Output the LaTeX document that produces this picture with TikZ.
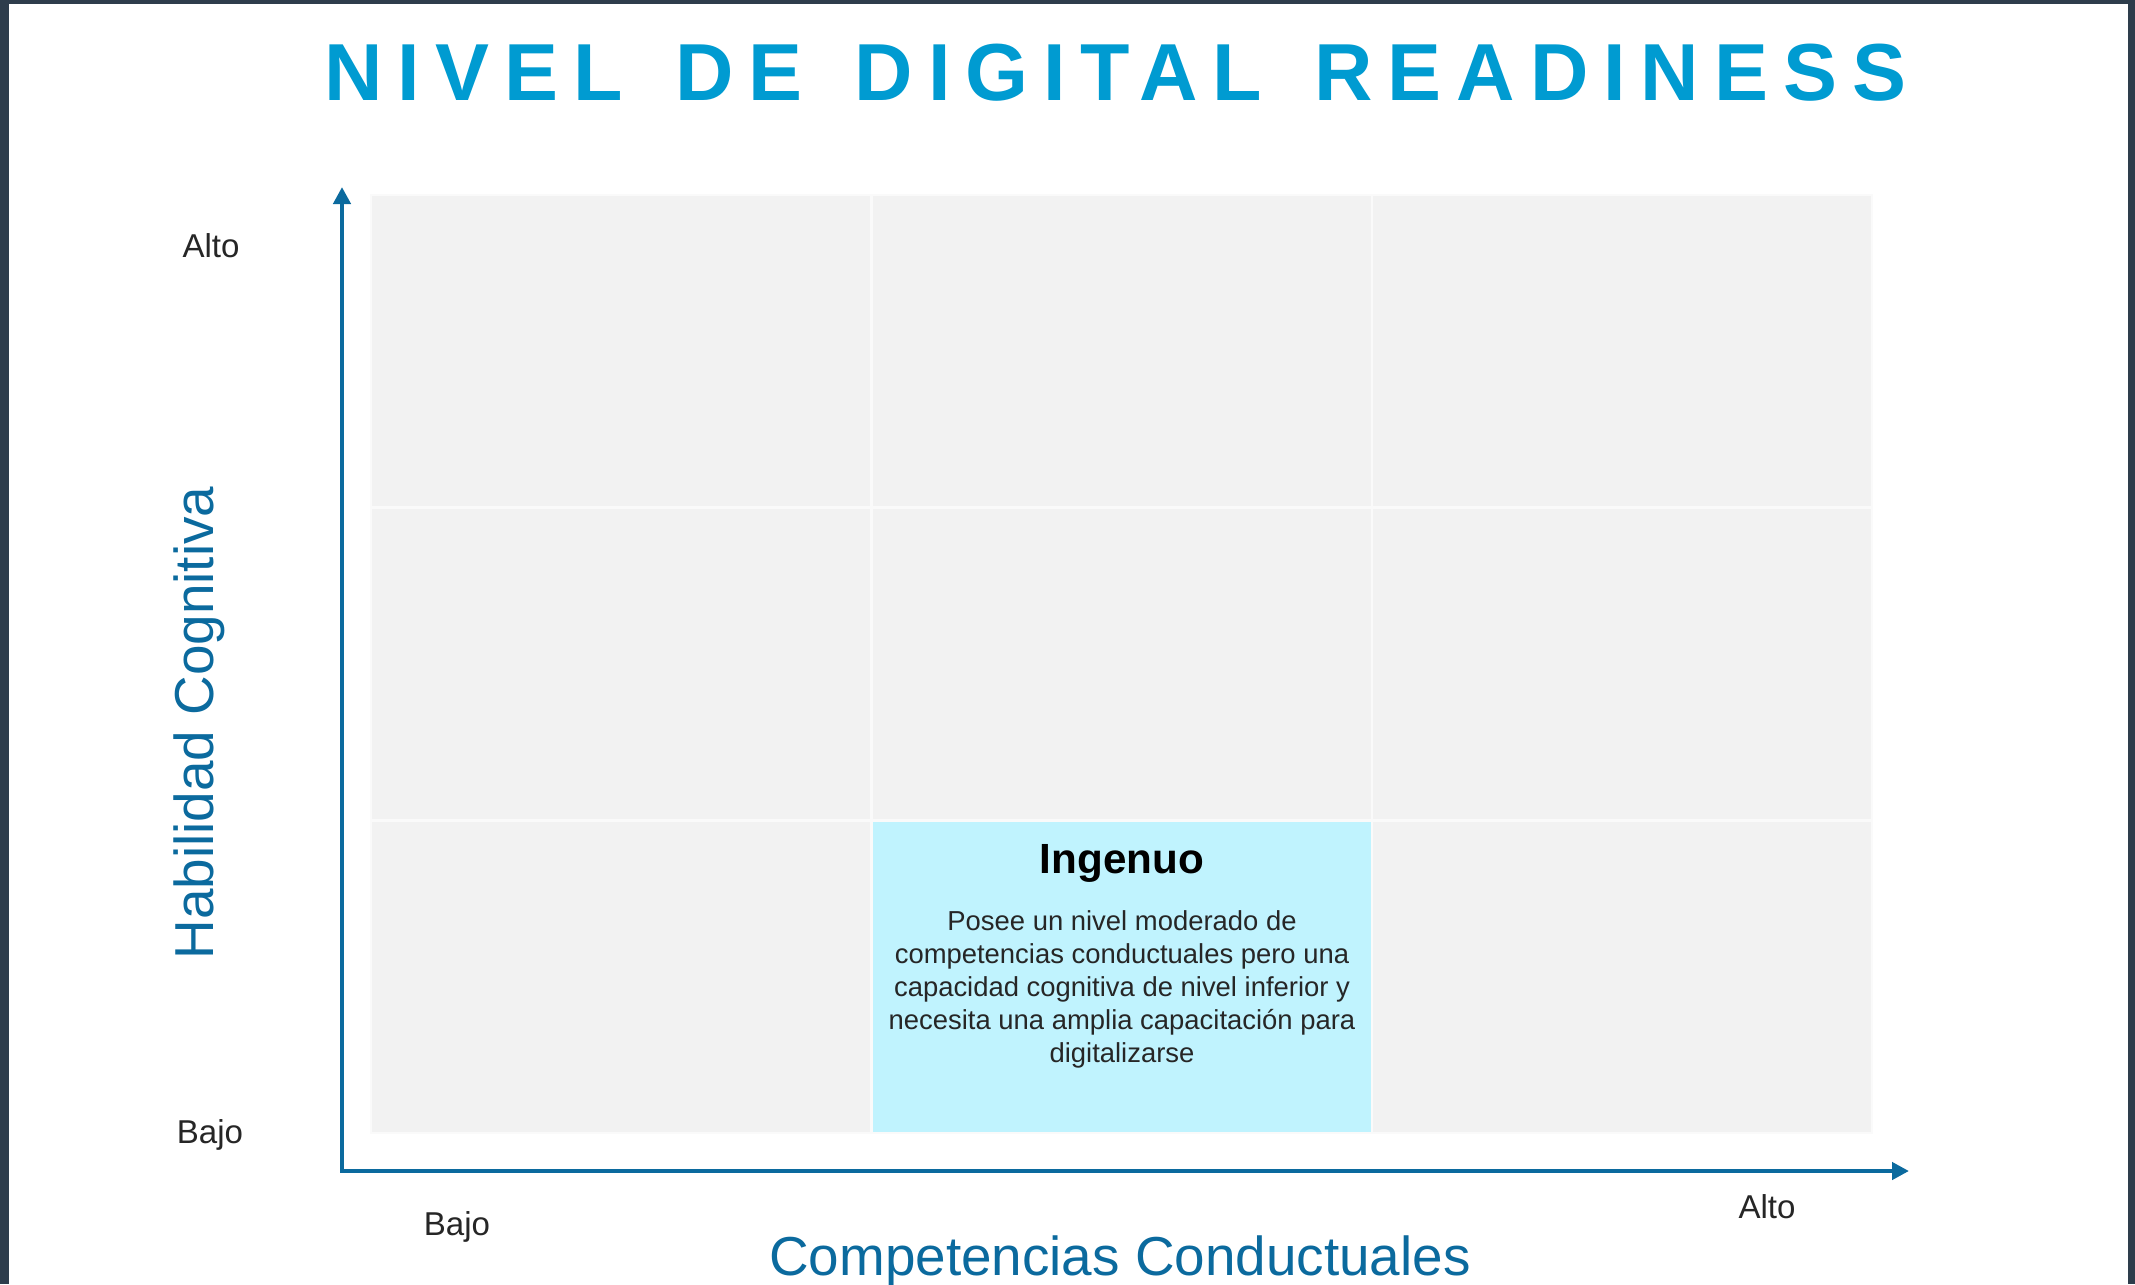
\documentclass[tikz,border=0pt]{standalone}
\usepackage{fontspec}
\setmainfont{Liberation Sans}
\newfontfamily\titlefont[LetterSpace=18.5, WordSpace=1.4]{Liberation Sans}
\usetikzlibrary{arrows.meta}
\definecolor{titleblue}{HTML}{009BD1}
\definecolor{axisblue}{HTML}{0B6A9E}
\definecolor{framedark}{HTML}{2E3D4C}
\definecolor{cellgray}{HTML}{F2F2F2}
\definecolor{cellline}{HTML}{FAFAFA}
\definecolor{cellcyan}{HTML}{C0F3FE}
\definecolor{levelgray}{HTML}{262626}

\begin{document}
\begin{tikzpicture}[x=0.01cm, y=-0.01cm]

      \tikzset{cell/.style={draw=cellline, line width=0.02cm, fill=cellgray, minimum width=5.003cm, minimum height=3.127cm, inner sep=0pt}}
      \tikzset{axis/.style={color=axisblue, line width=0.045cm, line cap=rect, -{Triangle[length=0.17cm, width=0.17cm]}}}
      \tikzset{level/.style={text=levelgray, font=\fontsize{9.4}{11}\selectfont, inner sep=0pt, anchor=base}}
      \tikzset{axislabel/.style={text=axisblue, font=\fontsize{15.6}{18}\selectfont, inner sep=0pt, anchor=base}}
%% Frame
      	\useasboundingbox (0,0) rectangle (2135,1284);
      	\fill[white] (0,0) rectangle (2135,1284);
      	\fill[framedark] (0,0) rectangle (9,1284);
      	\fill[framedark] (0,0) rectangle (2135,4);
      	\fill[framedark] (2128,0) rectangle (2135,1284);
%% Title
      	\node[anchor=base west, inner sep=0pt, text=titleblue, font=\titlefont\fontsize{23}{28}\selectfont\bfseries] (title) at (324,100) {NIVEL DE DIGITAL READINESS};
%% Cells
      	\node[cell] (c11) at (621,351) {};
      	\node[cell] (c12) at (1122,351) {};
      	\node[cell] (c13) at (1622,351) {};
      	\node[cell] (c21) at (621,664) {};
      	\node[cell] (c22) at (1122,664) {};
      	\node[cell] (c23) at (1622,664) {};
      	\node[cell] (c31) at (621,977) {};
      	\node[cell] (c33) at (1622,977) {};
      	\node[cell, fill=cellcyan] (c32) at (1122,977) {};
% Ingenuo
      	\node[anchor=base, inner sep=0pt, font=\fontsize{12}{14}\selectfont\bfseries] (ingenuo) at (1122,873) {Ingenuo};
      	\node[anchor=north, align=center, inner sep=0pt, text=levelgray, font=\fontsize{7.8}{9.4}\selectfont] (ingenuotext) at (1122,910) {Posee un nivel moderado de\\competencias conductuales pero una\\capacidad cognitiva de nivel inferior y\\necesita una amplia capacitación para\\digitalizarse};
%% Axes
      	\coordinate (origin) at (342,1171);
      	\coordinate (ytip) at (342,187);
      	\coordinate (xtip) at (1909,1171);
		\path [axis] (origin) edge (ytip);
		\path [axis] (origin) edge (xtip);
%Labels
      	\node[level] (yhigh) at (211,257) {Alto};
      	\node[level] (ylow) at (210,1143) {Bajo};
      	\node[level] (xlow) at (457,1235) {Bajo};
      	\node[level] (xhigh) at (1767,1218) {Alto};
      	\node[axislabel, rotate=90] (yname) at (213,723) {Habilidad Cognitiva};
      	\node[axislabel] (xname) at (1120,1275) {Competencias Conductuales};

	\end{tikzpicture}
\end{document}
